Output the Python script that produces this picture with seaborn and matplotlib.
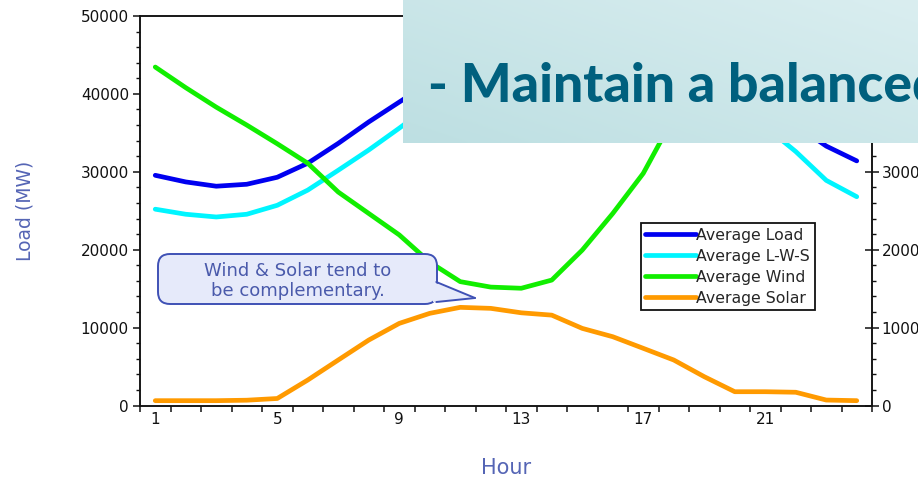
import numpy as np
import pandas as pd
import matplotlib
matplotlib.use('Agg')
import matplotlib.pyplot as plt
import matplotlib.transforms as mtransforms
from matplotlib.patches import FancyBboxPatch, Polygon
from matplotlib.lines import Line2D
from matplotlib.ticker import MultipleLocator, FixedLocator, FuncFormatter
import seaborn as sns

# hourly averages (load in MW on left axis, wind/solar in MW on right axis)
hours = list(range(1, 25))
avg_load = [29550, 28700, 28150, 28400, 29300, 31100, 33650, 36400, 38950,
            41500, 43500, 45000, 46000, 46800, 47400, 47800, 47800, 47300,
            46000, 43500, 40000, 36000, 33300, 31400]
avg_lws = [25200, 24550, 24200, 24550, 25700, 27650, 30200, 32800, 35600,
           38500, 40650, 42200, 43300, 44000, 44400, 44450, 44100, 43000,
           41600, 39100, 35800, 32600, 28900, 26800]
avg_wind = [4345, 4080, 3830, 3600, 3360, 3110, 2740, 2465, 2190, 1840,
            1590, 1520, 1505, 1610, 1995, 2465, 2980, 3700, 4000, 4200,
            4300, 4300, 4350, 4350]
avg_solar = [62, 62, 62, 68, 90, 327, 584, 840, 1054, 1183, 1260, 1247,
             1190, 1160, 990, 883, 734, 584, 370, 177, 177, 170, 70, 62]

df = pd.DataFrame({'Hour': hours, 'Load': avg_load, 'LWS': avg_lws,
                   'Wind': avg_wind, 'Solar': avg_solar})

sns.set_theme(style='ticks')
plt.rcParams['font.family'] = ['DejaVu Sans']
plt.rcParams['axes.linewidth'] = 1.1
plt.rcParams['axes.edgecolor'] = '#111111'

fig = plt.figure(figsize=(9.18, 4.79), dpi=100)
ax = fig.add_axes([140/918, 1-405.5/479, 732/918, 389.5/479])
ax2 = ax.twinx()

lw = 3.4
sns.lineplot(data=df, x='Hour', y='Load', ax=ax, color='#0000F0', lw=lw, label='Average Load', legend=False)
sns.lineplot(data=df, x='Hour', y='LWS', ax=ax, color='#00F5FF', lw=lw, label='Average L-W-S', legend=False)
sns.lineplot(data=df, x='Hour', y='Wind', ax=ax2, color='#11EE00', lw=lw, label='Average Wind', legend=False)
sns.lineplot(data=df, x='Hour', y='Solar', ax=ax2, color='#FF9A00', lw=lw, label='Average Solar', legend=False)

ax.set_xlim(0.5, 24.5)
ax.set_ylim(0, 50000)
ax2.set_ylim(0, 5000)

ax.xaxis.set_major_locator(FixedLocator([1, 5, 9, 13, 17, 21]))
ax.xaxis.set_minor_locator(FixedLocator(np.arange(0.5, 25, 1)))
ax.yaxis.set_major_locator(MultipleLocator(10000))
ax.yaxis.set_minor_locator(MultipleLocator(2000))
ax2.yaxis.set_major_locator(MultipleLocator(1000))
ax2.yaxis.set_minor_locator(MultipleLocator(200))
# upper right labels sit under the slide box
ax2.yaxis.set_major_formatter(FuncFormatter(lambda v, p: '' if v > 3500 else f'{v:.0f}'))

ax.tick_params(axis='x', which='major', length=0, pad=5, labelsize=11, colors='#111111')
ax.tick_params(axis='x', which='minor', length=4.5, width=1.1, direction='out', color='#111111')
ax.tick_params(axis='y', which='major', length=5, width=1.1, direction='out', labelsize=11, pad=3, colors='#111111')
ax.tick_params(axis='y', which='minor', length=3, width=1.0, direction='out', color='#111111')
ax2.tick_params(axis='y', which='major', length=10, width=1.1, direction='inout', labelsize=11, pad=2, colors='#111111')
ax2.tick_params(axis='y', which='minor', length=3, width=1.0, direction='out', color='#111111')

ax.set_xlabel('Hour', fontsize=15, color='#5565B5', labelpad=22)
ax.set_ylabel('Load (MW)', fontsize=13.5, color='#5565B5', labelpad=33)
ax2.set_ylabel('')

h1, l1 = ax.get_legend_handles_labels()
h2, l2 = ax2.get_legend_handles_labels()
leg = ax2.legend(h1 + h2, l1 + l2, loc='upper left', bbox_to_anchor=(0.684, 0.4685),
                 frameon=True, fancybox=False, framealpha=1, edgecolor='#111111',
                 fontsize=11.3, handlelength=3.2, handletextpad=0.05,
                 labelspacing=0.38, borderpad=0.3, borderaxespad=0)
leg.get_frame().set_linewidth(1.3)

# callout in figure pixels (y measured from top)
px = mtransforms.Affine2D().scale(1/918, -1/479).translate(0, 1) + fig.transFigure
box = FancyBboxPatch((158, 254), 279, 50, boxstyle='round,pad=0,rounding_size=12',
                     transform=px, fc='#E6EAFA', ec='#3F51B5', lw=1.4, zorder=5)
fig.patches.append(box)
tail = Polygon([(433, 282), (475, 298), (433, 302)], closed=True, transform=px,
               fc='#E6EAFA', ec='none', zorder=6)
fig.patches.append(tail)
for yy in (282, 302):
    fig.lines.append(Line2D([436.3, 475], [yy, 298], transform=px, color='#3F51B5', lw=1.4, zorder=7))
fig.text(297.5/918, 1-281/479, 'Wind & Solar tend to\nbe complementary.', ha='center', va='center',
         fontsize=13, color='#4A5AAB', linespacing=1.15, zorder=8)

# slide overlay box
ov = fig.add_axes([403/918, 1-143/479, 1-403/918, 143/479])
gx, gy = np.meshgrid(np.linspace(0, 1, 200), np.linspace(0, 1, 60))
t = np.clip(0.55*gx + 0.45*gy, 0, 1)
c0 = np.array([0xBD, 0xDF, 0xE2]) / 255
c1 = np.array([0xDA, 0xEE, 0xF0]) / 255
img = c0 + t[..., None] * (c1 - c0)
ov.imshow(img, extent=(0, 1, 0, 1), origin='lower', aspect='auto')
ov.set_xlim(0, 1)
ov.set_ylim(0, 1)
ov.axis('off')
ov.text(25/515, 41/143, '- Maintain a balanced', fontsize=38.5, fontweight='black',
        family=['Lato', 'DejaVu Sans'], color='#00607E', ha='left', va='baseline', clip_on=False)

fig.savefig('out.png', dpi=100)
